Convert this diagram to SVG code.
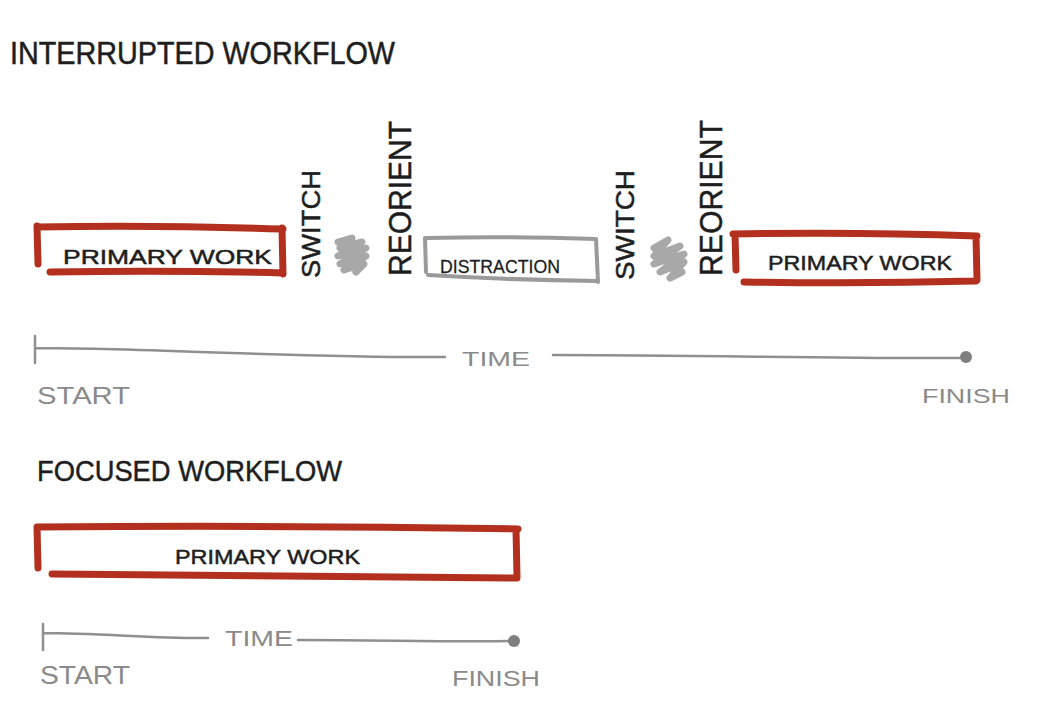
<svg xmlns="http://www.w3.org/2000/svg" width="1062" height="724" viewBox="0 0 1062 724">
<style>
.ink{font-family:"Liberation Sans","DejaVu Sans",sans-serif;fill:#1e1e1e;stroke:#1e1e1e;stroke-width:0.5}
.gray{font-family:"Liberation Sans","DejaVu Sans",sans-serif;fill:#8a8a8a}
.red{fill:none;stroke:#b3301f;stroke-width:7;stroke-linecap:round;stroke-linejoin:round}
.gbox{fill:none;stroke:#9a9a9a;stroke-width:4;stroke-linecap:round}
.tl{fill:none;stroke:#8f8f8f;stroke-width:2.5;stroke-linecap:round}
.scr{fill:none;stroke:#a8a8a8;stroke-width:7;stroke-linecap:round;stroke-linejoin:round}
</style>
<rect width="1062" height="724" fill="#ffffff"/>

<g id="title-interrupted">
<text class="ink" x="10" y="64" font-size="31" textLength="385" lengthAdjust="spacingAndGlyphs">INTERRUPTED WORKFLOW</text>
</g>

<g id="primary-work-1">
<path class="red" d="M37,227 Q160,225 283,229 M37,226 L38,264 M282,228 L283,274 M50,272 Q170,270 283,273"/>
<text class="ink" x="63" y="264" font-size="21" textLength="209" lengthAdjust="spacingAndGlyphs">PRIMARY WORK</text>
</g>

<g id="switch-1">
<text class="ink" transform="translate(320,278) rotate(-90)" font-size="26" textLength="108" lengthAdjust="spacingAndGlyphs">SWITCH</text>
</g>
<g id="scribble-1">
<path class="scr" d="M338,242 L352,238 L340,248 L362,242 L338,256 L366,248 L340,264 L366,256 L344,270 L364,264 L356,272"/>
</g>
<g id="reorient-1">
<text class="ink" transform="translate(411,276) rotate(-90)" font-size="32" textLength="155" lengthAdjust="spacingAndGlyphs">REORIENT</text>
</g>

<g id="distraction">
<path class="gbox" d="M426,238 Q510,236 596,239 M425,238 L426,272 M596,239 L598,282 M428,275 Q510,280 598,281"/>
<text class="ink" x="440" y="273" font-size="19" textLength="120" lengthAdjust="spacingAndGlyphs" style="stroke-width:0.3">DISTRACTION</text>
</g>

<g id="switch-2">
<text class="ink" transform="translate(634,280) rotate(-90)" font-size="26" textLength="110" lengthAdjust="spacingAndGlyphs">SWITCH</text>
</g>
<g id="scribble-2">
<path class="scr" d="M654,248 L668,240 L654,256 L680,246 L654,264 L684,254 L660,272 L684,262 L670,278 L682,272"/>
</g>
<g id="reorient-2">
<text class="ink" transform="translate(722,276) rotate(-90)" font-size="32" textLength="156" lengthAdjust="spacingAndGlyphs">REORIENT</text>
</g>

<g id="primary-work-2">
<path class="red" d="M733,234 Q860,232 977,236 M735,234 L736,270 M976,236 L977,280 M744,282 Q860,284 976,281"/>
<text class="ink" x="768" y="270" font-size="21" textLength="184" lengthAdjust="spacingAndGlyphs">PRIMARY WORK</text>
</g>

<g id="title-focused">
<text class="ink" x="37" y="481" font-size="30" textLength="305" lengthAdjust="spacingAndGlyphs">FOCUSED WORKFLOW</text>
</g>

<g id="primary-work-focused">
<path class="red" d="M37,527 Q280,525 518,529 M37,527 L38,568 M516,529 L517,577 M52,574 Q280,577 517,578"/>
<text class="ink" x="175" y="564" font-size="21" textLength="185" lengthAdjust="spacingAndGlyphs">PRIMARY WORK</text>
</g>

<g id="connectors">
<path class="tl" d="M35,336 L35,363 M35,348 C150,348 300,358 445,357"/>
<path class="tl" d="M553,355 C700,355 850,359 962,358"/>
<circle cx="966" cy="357" r="6" fill="#7f7f7f"/>
<path class="tl" d="M43,624 L43,650 M43,633 C100,633 160,639 208,638"/>
<path class="tl" d="M298,640 C380,640 450,642 510,641"/>
<circle cx="514" cy="641" r="6" fill="#7f7f7f"/>
</g>

<g id="timeline-labels">
<text class="gray" x="462" y="366" font-size="21" textLength="68" lengthAdjust="spacingAndGlyphs">TIME</text>
<text class="gray" x="37" y="404" font-size="24" textLength="93" lengthAdjust="spacingAndGlyphs">START</text>
<text class="gray" x="922" y="403" font-size="21" textLength="88" lengthAdjust="spacingAndGlyphs">FINISH</text>
<text class="gray" x="225" y="646" font-size="22" textLength="68" lengthAdjust="spacingAndGlyphs">TIME</text>
<text class="gray" x="40" y="684" font-size="25" textLength="90" lengthAdjust="spacingAndGlyphs">START</text>
<text class="gray" x="452" y="686" font-size="22" textLength="88" lengthAdjust="spacingAndGlyphs">FINISH</text>
</g>
</svg>
